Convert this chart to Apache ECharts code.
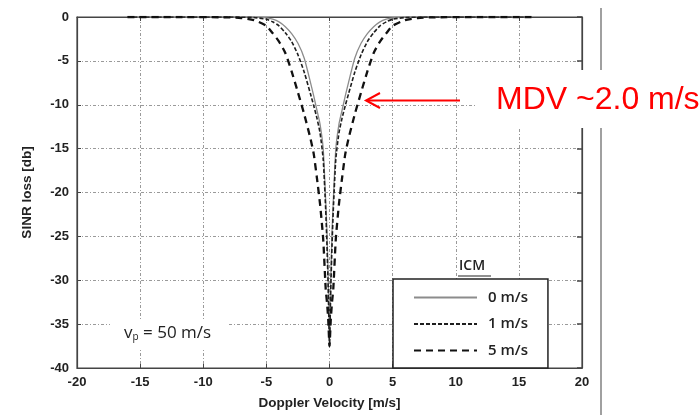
<!DOCTYPE html>
<html>
<head>
<meta charset="utf-8">
<script src="https://cdn.jsdelivr.net/npm/echarts@6/dist/echarts.min.js"></script>
<style>html,body{margin:0;padding:0;background:#fff}#c{width:700px;height:415px}</style>
</head>
<body>
<div id="c"></div>
<script>
// Doppler velocity (m/s)
var velocity = [-16,-12,-8,-7,-6,-5,-4.5,-4,-3.5,-3,-2.5,-2,-1.5,-1.25,-1,-0.75,-0.5,-0.3,-0.2,-0.1,0,0.1,0.2,0.3,0.5,0.75,1,1.25,1.5,2,2.5,3,3.5,4,4.5,5,6,7,8,12,16];
// SINR loss (dB), ICM 0 m/s
var icm0 = [0,0,0,0,-0.02,-0.1,-0.25,-0.55,-1.1,-1.9,-3.0,-4.7,-7.5,-9.0,-10.6,-12.2,-15,-21,-24.5,-30,-37.5,-30,-24.5,-21,-15,-12.2,-10.6,-9.0,-7.5,-4.7,-3.0,-1.9,-1.1,-0.55,-0.25,-0.1,-0.02,0,0,0,0];
// SINR loss (dB), ICM 1 m/s
var icm1 = [0,0,0,-0.02,-0.06,-0.25,-0.55,-1.0,-1.8,-2.8,-4.3,-6.3,-8.8,-10.1,-11.5,-13.2,-16.2,-22,-26,-31,-37.5,-31,-26,-22,-16.2,-13.2,-11.5,-10.1,-8.8,-6.3,-4.3,-2.8,-1.8,-1.0,-0.55,-0.25,-0.06,-0.02,0,0,0];
// SINR loss (dB), ICM 5 m/s
var icm5 = [0,0,-0.04,-0.12,-0.35,-1.0,-1.85,-2.8,-4.1,-6.2,-8.6,-11.1,-13.9,-15.6,-18.3,-21.3,-25.3,-31,-32.5,-34.5,-37.5,-34.5,-32.5,-31,-25.3,-21.3,-18.3,-15.6,-13.9,-11.1,-8.6,-6.2,-4.1,-2.8,-1.85,-1.0,-0.35,-0.12,-0.04,0,0];
var seriesNames = ['0 m/s','1 m/s','5 m/s'];
var xTicks = [-20,-15,-10,-5,0,5,10,15,20];
var yTicks = [0,-5,-10,-15,-20,-25,-30,-35,-40];

function pairs(vals){ return velocity.map(function(v,i){ return [v, vals[i]]; }); }

var chart = echarts.init(document.getElementById('c'), null, {renderer:'canvas'});
var gridLine = {show:true, lineStyle:{color:'#9a9a9a', width:1, type:[3,2,1,2]}};
var lbl = {color:'#222', fontFamily:'Liberation Sans, Arial', fontWeight:'bold', fontSize:13};
var axLine = {show:true, onZero:false, lineStyle:{color:'#444', width:1.2}};
var opt = {
  backgroundColor:'#fff',
  animation:false,
  grid:{left:77, right:118, top:17, bottom:43, show:true, borderColor:'#444', borderWidth:1.2},
  xAxis:[{
    type:'value', min:xTicks[0], max:xTicks[xTicks.length-1], interval:5,
    name:'Doppler Velocity [m/s]', nameLocation:'middle', nameGap:28,
    nameTextStyle:{color:'#222', fontFamily:'Liberation Sans, Arial', fontWeight:'bold', fontSize:13.5},
    axisLine:axLine,
    axisTick:{show:true, inside:true, length:4, lineStyle:{color:'#444'}},
    axisLabel:Object.assign({margin:8}, lbl),
    splitLine:gridLine
  },{
    type:'value', position:'top', min:xTicks[0], max:xTicks[xTicks.length-1], interval:5,
    axisLine:axLine,
    axisTick:{show:true, inside:true, length:4, lineStyle:{color:'#444'}},
    axisLabel:{show:false}, splitLine:{show:false}
  }],
  yAxis:[{
    type:'value', min:yTicks[yTicks.length-1], max:yTicks[0], interval:5,
    name:'SINR loss [db]', nameLocation:'middle', nameGap:43, nameRotate:90,
    nameTextStyle:{color:'#222', fontFamily:'Liberation Sans, Arial', fontWeight:'bold', fontSize:13.5},
    axisLine:axLine,
    axisTick:{show:true, inside:true, length:4, lineStyle:{color:'#444'}},
    axisLabel:Object.assign({margin:8}, lbl),
    splitLine:gridLine
  },{
    type:'value', position:'right', min:yTicks[yTicks.length-1], max:yTicks[0], interval:5,
    axisLine:axLine,
    axisTick:{show:true, inside:true, length:5, lineStyle:{color:'#444', width:1.5}},
    axisLabel:{show:false}, splitLine:{show:false}
  }],
  legend:{
    orient:'vertical', left:393, top:279, width:157,
    padding:[11,20,10,20], itemGap:11.5, itemWidth:63, itemHeight:14,
    backgroundColor:'#fff', borderColor:'#222', borderWidth:1.5,
    data:seriesNames,
    itemStyle:{opacity:0},
    textStyle:{color:'#222', fontFamily:'Open Sans, Liberation Sans', fontSize:15, fontWeight:600, padding:[0,0,0,6]}
  },
  series:[
    {name:seriesNames[0], type:'line', data:pairs(icm0), symbol:'none', smooth:0.2, z:3,
     lineStyle:{color:'#8c8c8c', width:1.3, type:'solid'}, itemStyle:{color:'#8c8c8c'}},
    {name:seriesNames[1], type:'line', data:pairs(icm1), symbol:'none', smooth:0.2, z:4,
     lineStyle:{color:'#1e1e1e', width:1.6, type:[4,2]}, itemStyle:{color:'#1e1e1e'}},
    {name:seriesNames[2], type:'line', data:pairs(icm5), symbol:'none', smooth:0.2, z:5,
     lineStyle:{color:'#111', width:2.3, type:[7,5]}, itemStyle:{color:'#111'}}
  ],
  graphic:[
    {type:'line', z:1, shape:{x1:601, y1:8, x2:601, y2:415}, style:{stroke:'#a0a0a0', lineWidth:2}},
    {type:'rect', z:10, shape:{x:475, y:70, width:225, height:58}, style:{fill:'#fff'}},
    {type:'text', z:11, x:496, y:100, style:{text:'MDV ~2.0 m/s', fill:'#ff0000', font:'32px "Liberation Sans", Arial', textVerticalAlign:'middle', verticalAlign:'middle'}},
    {type:'line', z:11, shape:{x1:460, y1:100.5, x2:367, y2:100.5}, style:{stroke:'#ff0000', lineWidth:2}},
    {type:'polyline', z:11, shape:{points:[[380,93],[366,100.5],[380,108]]}, style:{stroke:'#ff0000', lineWidth:2, fill:null}},
    {type:'text', z:11, left:459, top:259, style:{text:'ICM', fill:'#222', font:'600 14px "Open Sans", "Liberation Sans"'}},
    {type:'line', z:11, shape:{x1:458, y1:276, x2:491, y2:276}, style:{stroke:'#222', lineWidth:1.2}},
    {type:'text', z:11, left:110, top:321, style:{
      rich:{
        a:{font:'17px "Open Sans", "Liberation Sans"', fill:'#222'},
        s:{font:'10px "Open Sans", "Liberation Sans"', fill:'#222', verticalAlign:'bottom', padding:[7,0,0,0]}
      },
      text:'{a|v}{s|p}{a| = 50 m/s}', backgroundColor:'#fff', padding:[4,16,6,14]
    }}
  ]
};
chart.setOption(opt);
</script>
</body>
</html>
